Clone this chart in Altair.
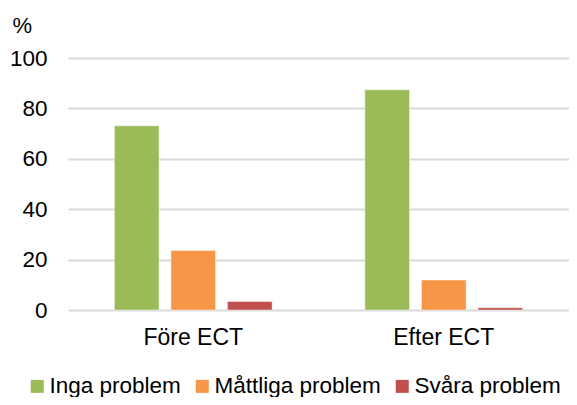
import altair as alt
import pandas as pd

periods = ["Före ECT", "Efter ECT"]
groups = ["Inga problem", "Måttliga problem", "Svåra problem"]
values_fore = [73.1, 23.6, 3.4]
values_efter = [87.4, 11.9, 0.9]
colors = ["#9BBB59", "#F79646", "#C0504D"]

rows = []
for p, vals in zip(periods, [values_fore, values_efter]):
    for g, v in zip(groups, vals):
        rows.append({"period": p, "group": g, "value": v})
df = pd.DataFrame(rows)

FONT = "Liberation Sans"

chart = alt.Chart(df).mark_bar(
    stroke="white", strokeOpacity=0.45, strokeWidth=1
).encode(
    x=alt.X("period:N", sort=periods, title=None,
            scale=alt.Scale(paddingInner=0, paddingOuter=0),
            axis=alt.Axis(labelAngle=0, labelFontSize=23, labelFont=FONT,
                          labelColor="#000000", labelPadding=16, ticks=False,
                          domain=False, grid=False)),
    xOffset=alt.XOffset("group:N", sort=groups,
                        scale=alt.Scale(paddingInner=0.21, paddingOuter=0.82)),
    y=alt.Y("value:Q",
            scale=alt.Scale(domain=[0, 100], nice=False),
            axis=alt.Axis(values=[0, 20, 40, 60, 80, 100], title="%",
                          titleAngle=0, titleX=-56, titleY=-43,
                          titleAlign="left", titleBaseline="top",
                          titleFontSize=22, titleFont=FONT,
                          titleFontWeight="normal", titleColor="#000000",
                          labelFontSize=22.5, labelFont=FONT,
                          labelColor="#000000", labelPadding=21,
                          ticks=False, domain=False, gridColor="#D9D9D9",
                          gridWidth=2)),
    color=alt.Color("group:N", sort=groups,
                    scale=alt.Scale(domain=groups, range=colors),
                    legend=alt.Legend(title=None, orient="none",
                                      direction="horizontal", columns=3,
                                      legendX=-42, legendY=317,
                                      symbolType="square", symbolSize=169,
                                      symbolStrokeWidth=0, symbolOpacity=1,
                                      labelFontSize=22.5, labelFont=FONT,
                                      labelColor="#000000", labelOffset=1,
                                      labelLimit=0, columnPadding=10,
                                      padding=0)),
).properties(
    width=501,
    height=252,
    autosize=alt.AutoSizeParams(type="none"),
    padding={"left": 60, "top": 50, "right": 0, "bottom": 87},
).configure_view(stroke=None)

chart.save("out.html", embed_options={"renderer": "svg", "actions": False})
